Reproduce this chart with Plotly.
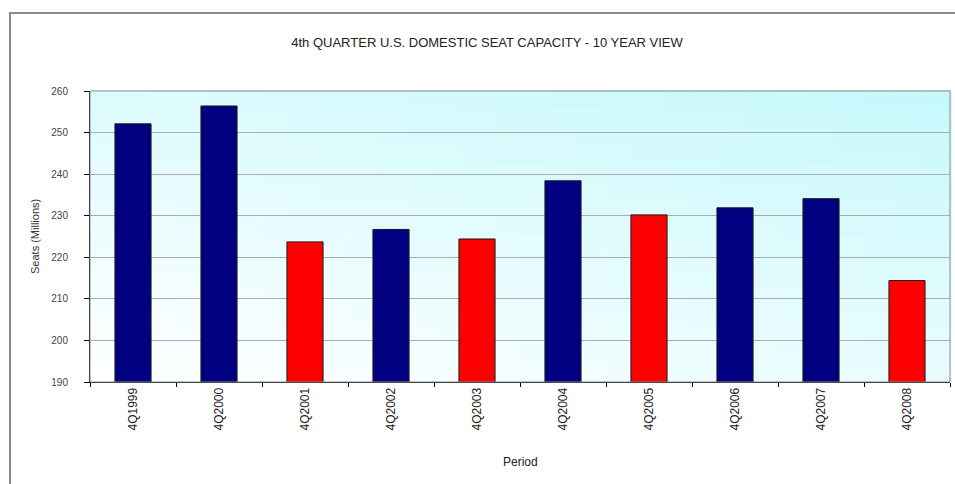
import plotly.graph_objects as go

periods = ["4Q1999", "4Q2000", "4Q2001", "4Q2002", "4Q2003",
           "4Q2004", "4Q2005", "4Q2006", "4Q2007", "4Q2008"]
seats = [252.1, 256.4, 223.7, 226.7, 224.4, 238.4, 230.2, 231.9, 234.1, 214.4]
is_red = [False, False, True, False, True, False, True, False, False, True]
y_ticks = [190, 200, 210, 220, 230, 240, 250, 260]

NAVY = "#000080"
RED = "#ff0000"
colors = [RED if r else NAVY for r in is_red]

fig = go.Figure()
fig.add_trace(go.Bar(
    x=periods, y=seats,
    marker=dict(color=colors, line=dict(color="#1a1a1a", width=1)),
    hoverinfo="x+y",
))

# gradient background built from small cells
shapes = []
NX, NY = 30, 16
white = (255, 255, 255)
cyan = (198, 248, 252)
for i in range(NX):
    for j in range(NY):
        xf = (i + 0.5) / NX
        yf = (j + 0.5) / NY
        t = 0.4 * xf + 0.6 * yf
        t = max(0.0, min(1.0, t))
        c = tuple(int(round(white[k] + (cyan[k] - white[k]) * t)) for k in range(3))
        shapes.append(dict(
            type="rect", xref="x domain", yref="y domain",
            x0=i / NX, x1=(i + 1) / NX + 0.002,
            y0=j / NY, y1=(j + 1) / NY + 0.004,
            fillcolor="rgb(%d,%d,%d)" % c, line=dict(width=0), layer="below",
        ))

# plot area border
shapes.append(dict(type="rect", xref="x domain", yref="y domain",
                   x0=0, x1=1, y0=0, y1=1,
                   line=dict(color="#8c8c8c", width=1), layer="above"))
# outer chart frame
shapes.append(dict(type="rect", xref="paper", yref="paper",
                   x0=(10 - 90) / 860, x1=(958 - 90) / 860,
                   y0=(382 - 490) / 291, y1=1 + (91 - 13) / 291,
                   line=dict(color="#8a8a8a", width=2), layer="above"))

fig.update_layout(
    width=955, height=484,
    margin=dict(l=90, r=5, t=91, b=102),
    paper_bgcolor="white",
    plot_bgcolor="white",
    font=dict(family="Liberation Sans, Arial, sans-serif", color="#222222"),
    title=dict(text="4th QUARTER U.S. DOMESTIC SEAT CAPACITY - 10 YEAR VIEW",
               x=0.51, xanchor="center", y=1 - 42 / 484, yanchor="middle",
               yref="container", font=dict(size=13, color="#222222")),
    bargap=0.58,
    showlegend=False,
    shapes=shapes,
    annotations=[
        dict(text="Period", xref="paper", yref="paper",
             x=(520 - 90) / 860, y=(382 - 462) / 291,
             showarrow=False, xanchor="center", yanchor="middle",
             font=dict(size=12, color="#222222")),
        dict(text="Seats (Millions)", xref="paper", yref="paper",
             x=(35 - 90) / 860, y=(382 - 237) / 291, textangle=-90,
             showarrow=False, xanchor="center", yanchor="middle",
             font=dict(size=11, color="#333333")),
    ],
)

fig.update_xaxes(
    showline=True, linecolor="black", linewidth=1,
    ticks="outside", tickson="boundaries", ticklen=4, tickcolor="black",
    tickangle=-90, tickfont=dict(size=12, color="#222222"),
    showgrid=False,
)
fig.update_yaxes(
    range=[190, 260], tickvals=y_ticks,
    showline=True, linecolor="black", linewidth=1,
    ticks="outside", ticklen=5, tickcolor="black",
    ticklabelstandoff=14,
    tickfont=dict(size=10, color="#444444"),
    showgrid=True, gridcolor="#acacac", gridwidth=1,
    zeroline=False,
)

fig.write_html("out.html")
